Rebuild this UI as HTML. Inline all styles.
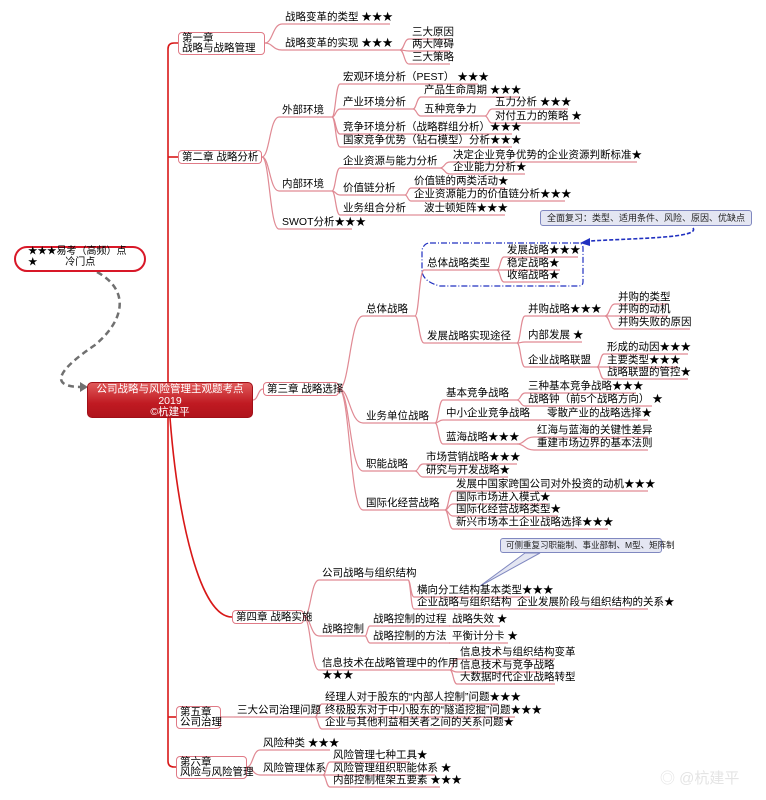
<!DOCTYPE html>
<html><head><meta charset="utf-8">
<style>
html,body{margin:0;padding:0;background:#fff;}
body{width:766px;height:800px;position:relative;overflow:hidden;font-family:"Liberation Sans","Noto Sans CJK SC",sans-serif;}
.t{position:absolute;font-size:10.5px;line-height:12px;color:#000;white-space:nowrap;}
.box{position:absolute;border:1.5px solid #e07a86;border-radius:4px;background:#fff;font-size:10.5px;line-height:10px;color:#000;padding:0 3px;box-sizing:border-box;white-space:nowrap;}
svg{position:absolute;left:0;top:0;}
</style></head><body>
<svg id="s" width="766" height="800" viewBox="0 0 766 800">
<g fill="none" stroke="#d81818" stroke-width="1.6">
<path d="M178,43 H174 Q168,43 168,49 V761 Q168,767 174,767 H178"/>
<path d="M168,157 H178"/>
<path d="M168,717 H176"/>
<path d="M170,418 C178,520 200,617 232,617"/>
</g>
<path d="M97,272 C130,290 125,320 95,345 C55,372 50,387 82,387" fill="none" stroke="#707070" stroke-width="2.5" stroke-dasharray="6,4"/>
<polygon points="88,387 80,382 80,392" fill="#707070"/>
<path d="M693,228 C700,238 640,238 590,241" fill="none" stroke="#2030c0" stroke-width="1.6" stroke-dasharray="4,2"/>
<polygon points="580,243 590,238 590,246" fill="#2030c0"/>
<path d="M430,243 H578 Q583,243 583,248 V282 Q583,286 578,286 H440 Q424,282 422,272 V250 Q424,243 430,243Z" fill="none" stroke="#2030c0" stroke-width="1.2" stroke-dasharray="6,2,1,2"/>
<polygon points="525,553 540,553 480,586" fill="#e4e6f2" stroke="#8088c0" stroke-width="1"/>
</svg>
<div class="box" style="left:87px;top:382px;width:166px;height:36px;background:linear-gradient(#e05a5a,#c01a22 60%,#b0141c);border:1px solid #a01018;border-radius:5px;color:#fff;text-align:center;line-height:11.5px;padding-top:1px;font-size:10.5px">公司战略与风险管理主观题考点<br>2019<br>©杭建平</div>
<div class="box" style="left:178px;top:32px;width:87px;height:23px;">第一章<br>战略与战略管理</div>
<div class="box" style="left:178px;top:150px;width:84px;height:14px;line-height:12px">第二章 战略分析</div>
<div class="box" style="left:263px;top:382px;width:76px;height:14px;line-height:12px">第三章 战略选择</div>
<div class="box" style="left:232px;top:610px;width:72px;height:14px;line-height:12px">第四章 战略实施</div>
<div class="box" style="left:176px;top:706px;width:45px;height:23px;">第五章<br>公司治理</div>
<div class="box" style="left:176px;top:756px;width:71px;height:23px;">第六章<br>风险与风险管理</div>
<div style="position:absolute;left:14px;top:246px;width:132px;height:26px;border:2px solid #d81828;border-radius:13px;box-sizing:border-box;"></div>
<div class="t" style="left:28px;top:247px;font-size:10px;line-height:10.5px"><span style="font-size:9.5px">★★★</span>易考（高频）点<br><span style="font-size:9.5px">★</span>&nbsp;&nbsp;&nbsp;&nbsp;&nbsp;&nbsp;&nbsp;&nbsp;&nbsp;&nbsp;冷门点</div>
<div style="position:absolute;left:540px;top:210px;width:212px;height:16px;background:#e4e6f2;border:1px solid #8088c0;border-radius:3px;box-sizing:border-box;font-size:9px;line-height:14px;padding-left:6px;color:#222;white-space:nowrap">全面复习：类型、适用条件、风险、原因、优缺点</div>
<div style="position:absolute;left:500px;top:538px;width:162px;height:15px;background:#e4e6f2;border:1px solid #8088c0;border-radius:3px;box-sizing:border-box;font-size:8.5px;line-height:13px;padding-left:5px;color:#222;white-space:nowrap">可侧重复习职能制、事业部制、M型、矩阵制</div>
<div class="t" style="left:660px;top:770px;font-size:15px;line-height:18px;color:#e4e4e4">◎ @杭建平</div>
<script>
var S=document.getElementById('s'),NS='http://www.w3.org/2000/svg';
function P(d,c,w){var p=document.createElementNS(NS,'path');p.setAttribute('d',d);p.setAttribute('fill','none');p.setAttribute('stroke',c||'#e08a94');p.setAttribute('stroke-width',w||1.2);S.appendChild(p);}
function T(x,cy,t){var d=document.createElement('div');d.className='t';d.style.left=x+'px';d.style.top=(cy-6)+'px';d.innerHTML=t;document.body.appendChild(d);}
function conn(px,py,cx,cy){var m=px+(cx-px)*0.45;
 if(Math.abs(py-cy)<1){P('M'+px+','+py+' H'+cx);return;}
 P('M'+px+','+py+' C'+m+','+py+' '+m+','+cy+' '+cx+','+cy);}
function draw(n,px,py){var x=n[0],cy=n[1],uy=cy+7;T(x,cy,n[2]);P('M'+(x-3)+','+uy+' H'+n[3]);if(px!==undefined)conn(px,py,x-3,uy);
 (n[4]||[]).forEach(function(k){draw(k,n[3],uy);});}
function root(px,py,kids){kids.forEach(function(k){draw(k,px,py);});}
P('M253,400 C258,400 258,389 263,389','#e08a94',1.2);
root(265,43,[[285,17,'战略变革的类型 ★★★',390],[285,43,'战略变革的实现 ★★★',400,[[412,32,'三大原因',450],[412,44,'两大障碍',450],[412,57,'三大策略',450]]]]);
root(262,157,[
 [282,110,'外部环境',332,[[343,77,'宏观环境分析（PEST） ★★★',478],[343,102,'产业环境分析',413,[[424,90,'产品生命周期 ★★★',520],[424,109,'五种竞争力',485,[[495,102,'五力分析 ★★★',568],[495,116,'对付五力的策略 ★',580]]]]],[343,127,'竞争环境分析（战略群组分析）★★★',512],[343,140,'国家竞争优势（钻石模型）分析★★★',512]]],
 [282,184,'内部环境',332,[[343,161,'企业资源与能力分析',440,[[453,155,'决定企业竞争优势的企业资源判断标准★',637],[453,167,'企业能力分析★',525]]],[343,188,'价值链分析',405,[[414,181,'价值链的两类活动★',505],[414,194,'企业资源能力的价值链分析★★★',565]]],[343,208,'业务组合分析',405,[[424,208,'波士顿矩阵★★★',505]]]]],
 [282,222,'SWOT分析★★★',352]]);
root(339,389,[
 [366,309,'总体战略',415,[[427,263,'总体战略类型',497,[[507,250,'发展战略★★★',578],[507,263,'稳定战略★',560],[507,275,'收缩战略★',560]]],[427,336,'发展战略实现途径',517,[[528,309,'并购战略★★★',605,[[618,297,'并购的类型',668],[618,309,'并购的动机',668],[618,322,'并购失败的原因',690]]],[528,335,'内部发展 ★',582],[528,360,'企业战略联盟',597,[[607,347,'形成的动因★★★',688],[607,360,'主要类型★★★',678],[607,372,'战略联盟的管控★',688]]]]]]],
 [366,416,'业务单位战略',435,[[446,393,'基本竞争战略',517,[[528,386,'三种基本竞争战略★★★',636],[528,399,'战略钟（前5个战略方向） ★',652]]],[446,413,'中小企业竞争战略',540,[[547,413,'零散产业的战略选择★',648]]],[446,437,'蓝海战略★★★',517,[[537,430,'红海与蓝海的关键性差异',648],[537,443,'重建市场边界的基本法则',648]]]]],
 [366,464,'职能战略',415,[[426,457,'市场营销战略★★★',517],[426,470,'研究与开发战略★',508]]],
 [366,503,'国际化经营战略',445,[[456,484,'发展中国家跨国公司对外投资的动机★★★',648],[456,497,'国际市场进入模式★',548],[456,509,'国际化经营战略类型★',558],[456,522,'新兴市场本土企业战略选择★★★',608]]]]);
root(304,617,[
 [322,573,'公司战略与组织结构',408,[[417,590,'横向分工结构基本类型★★★',530],[417,602,'企业战略与组织结构',510,[[517,602,'企业发展阶段与组织结构的关系★',648]]]]],
 [322,629,'战略控制',365,[[373,619,'战略控制的过程',450,[[452,619,'战略失效 ★',500]]],[373,636,'战略控制的方法',450,[[452,636,'平衡计分卡 ★',508]]]]],
 [322,663,'信息技术在战略管理中的作用<br>★★★',450,[[460,652,'信息技术与组织结构变革',555],[460,665,'信息技术与竞争战略',540],[460,677,'大数据时代企业战略转型',555]]]]);
root(221,717,[[237,710,'三大公司治理问题',315,[[325,697,'经理人对于股东的“内部人控制”问题★★★',498],[325,710,'终极股东对于中小股东的“隧道挖掘”问题★★★',515],[325,722,'企业与其他利益相关者之间的关系问题★',480]]]]);
root(247,767,[[263,743,'风险种类 ★★★',330],[263,768,'风险管理体系',323,[[333,755,'风险管理七种工具★',410],[333,768,'风险管理组织职能体系 ★',435],[333,780,'内部控制框架五要素 ★★★',440]]]]);
</script>
</body></html>
